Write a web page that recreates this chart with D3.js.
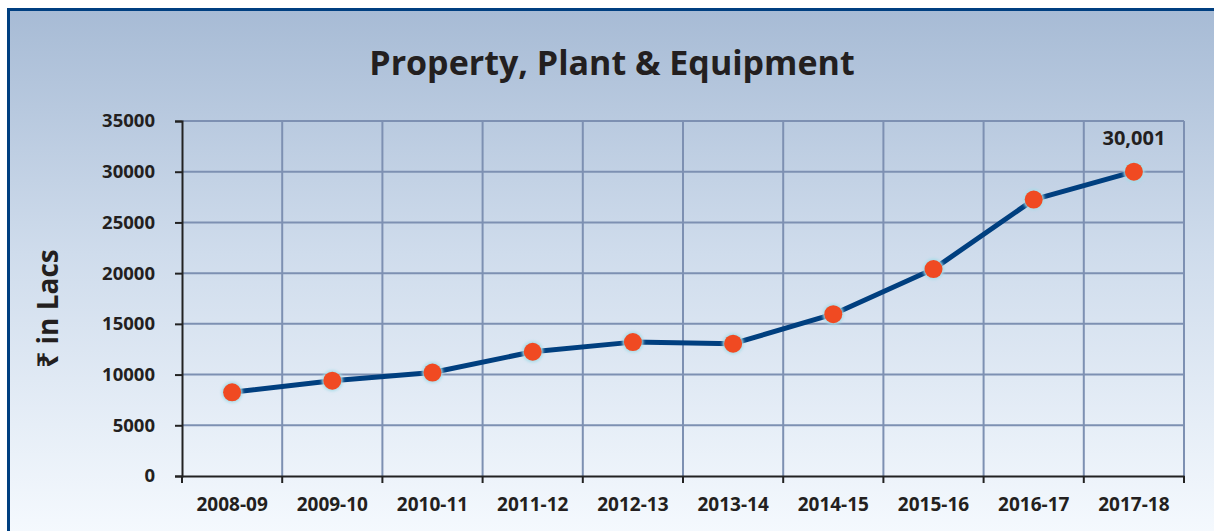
<!DOCTYPE html>
<html>
<head>
<meta charset="utf-8">
<script src="https://cdn.jsdelivr.net/npm/d3@7"></script>
<style>
  body { margin: 0; background: #fff; }
  svg, svg text { font-family: "Open Sans", "Noto Sans", sans-serif; }
  svg { display: block; }
</style>
</head>
<body>
<script>
const years = ["2008-09", "2009-10", "2010-11", "2011-12", "2012-13",
               "2013-14", "2014-15", "2015-16", "2016-17", "2017-18"];
const values = [8250, 9400, 10200, 12250, 13200, 13050, 15950, 20400, 27250, 30001];
const yTicks = [0, 5000, 10000, 15000, 20000, 25000, 30000, 35000];

let width = 1214;
let height = 531;
let marginTop = 121;
let marginRight = 30;
let marginBottom = 55;
let marginLeft = 182;

const svg = d3.select("body").append("svg")
    .attr("width", width)
    .attr("height", height)
    .attr("viewBox", [0, 0, width, height]);

// background gradient
const grad = svg.append("defs").append("linearGradient")
    .attr("id", "bg").attr("x1", 0).attr("y1", 0).attr("x2", 0).attr("y2", 1);
grad.append("stop").attr("offset", "0%").attr("stop-color", "#a7bbd5");
grad.append("stop").attr("offset", "45%").attr("stop-color", "#cfdcec");
grad.append("stop").attr("offset", "100%").attr("stop-color", "#f7fbff");

const glow = svg.select("defs").append("filter").attr("id", "glow")
    .attr("x", "-50%").attr("y", "-50%").attr("width", "200%").attr("height", "200%");
glow.append("feGaussianBlur").attr("stdDeviation", 1.5);

svg.append("rect")
    .attr("x", 8.5).attr("y", 9.5)
    .attr("width", width + 10).attr("height", height + 10)
    .attr("fill", "url(#bg)")
    .attr("stroke", "#003f80")
    .attr("stroke-width", 3);

const x = d3.scaleBand()
    .domain(years)
    .range([marginLeft, width - marginRight]);

const y = d3.scaleLinear()
    .domain([0, 35000])
    .range([height - marginBottom, marginTop]);

// grid
svg.append("g")
    .attr("stroke", "#7d90b2")
    .attr("stroke-width", 2)
    .call(g => g.selectAll(".h").data(yTicks.slice(1)).join("line")
        .attr("x1", marginLeft).attr("x2", width - marginRight)
        .attr("y1", d => y(d)).attr("y2", d => y(d)))
    .call(g => g.selectAll(".v").data(years.slice(1).concat([null])).join("line")
        .attr("x1", (d, i) => i < years.length - 1 ? x(d) : width - marginRight)
        .attr("x2", (d, i) => i < years.length - 1 ? x(d) : width - marginRight)
        .attr("y1", marginTop).attr("y2", y(0)));

// y axis
svg.append("g")
    .attr("transform", `translate(${marginLeft},0)`)
    .call(d3.axisLeft(y).tickValues(yTicks).tickFormat(d3.format("d")).tickSize(7).tickSizeOuter(7))
    .attr("font-family", null)
    .call(g => g.selectAll("line, path").attr("stroke", "#222").attr("stroke-width", 2))
    .call(g => g.selectAll("text")
        .attr("fill", "#231f20")
        .attr("x", -27)
        .style("font-size", "18.5px").style("font-weight", "bold"));

// x axis
svg.append("g")
    .attr("transform", `translate(0,${y(0)})`)
    .call(d3.axisBottom(x).tickSize(0).tickSizeOuter(0))
    .attr("font-family", null)
    .call(g => g.select(".domain").attr("stroke", "#222").attr("stroke-width", 2))
    .call(g => g.selectAll("text")
        .attr("fill", "#231f20")
        .attr("y", 22)
        .style("font-size", "19px").style("font-weight", "bold"));

// x tick marks on band boundaries
svg.append("g")
    .attr("stroke", "#222").attr("stroke-width", 2)
    .selectAll("line")
    .data(years.map(d => x(d)).concat([width - marginRight]))
    .join("line")
    .attr("x1", d => d).attr("x2", d => d)
    .attr("y1", y(0)).attr("y2", y(0) + 7);

// line
const line = d3.line()
    .x((d, i) => x(years[i]) + x.bandwidth() / 2)
    .y(d => y(d));

svg.append("path")
    .datum(values)
    .attr("fill", "none")
    .attr("stroke", "#003f7f")
    .attr("stroke-width", 5)
    .attr("stroke-linejoin", "round")
    .attr("d", line);

// markers
const pts = svg.append("g");
pts.selectAll(".halo").data(values).join("circle")
    .attr("cx", (d, i) => x(years[i]) + x.bandwidth() / 2)
    .attr("cy", d => y(d))
    .attr("r", 10.5)
    .attr("fill", "#a8dce8")
    .attr("filter", "url(#glow)");
pts.selectAll(".dot").data(values).join("circle")
    .attr("cx", (d, i) => x(years[i]) + x.bandwidth() / 2)
    .attr("cy", d => y(d))
    .attr("r", 9)
    .attr("fill", "#f04a22");

// data label for last point
const last = values.length - 1;
svg.append("text")
    .attr("x", x(years[last]) + x.bandwidth() / 2)
    .attr("y", y(values[last]) - 27)
    .attr("text-anchor", "middle")
    .attr("fill", "#231f20")
    .style("font-size", "20px").style("font-weight", "bold")
    .text(d3.format(",")(values[last]));

// title
svg.append("text")
    .attr("x", 612)
    .attr("y", 75)
    .attr("text-anchor", "middle")
    .attr("fill", "#231f20")
    .style("font-size", "34px").style("font-weight", "bold")
    .text("Property, Plant & Equipment");

// y label
svg.append("text")
    .attr("transform", `translate(58,${(marginTop + y(0)) / 2 + 10}) rotate(-90)`)
    .attr("text-anchor", "middle")
    .attr("fill", "#231f20")
    .style("font-size", "28px").style("font-weight", "bold")
    .text("₹ in Lacs");
</script>
</body>
</html>
